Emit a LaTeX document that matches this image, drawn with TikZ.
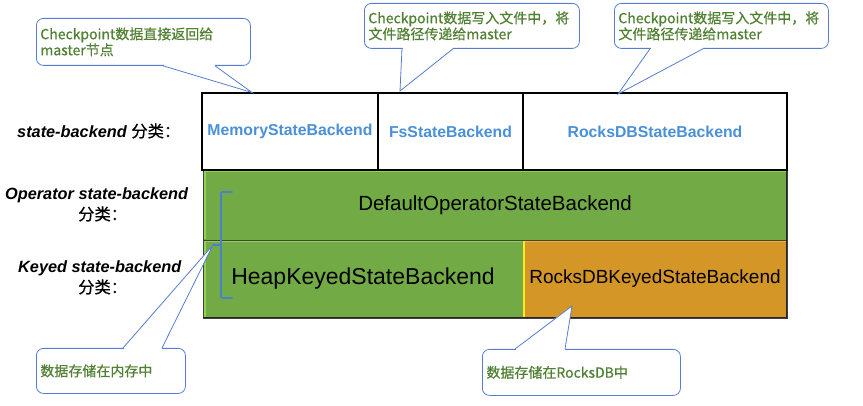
\documentclass[tikz,border=0pt]{standalone}
\usepackage{fontspec}
\setmainfont{Liberation Sans}
\newfontfamily\cjk{Noto Sans CJK SC}
\newfontfamily\cjkm[FakeBold=0.5]{Noto Sans CJK SC}
\usetikzlibrary{calc}
\definecolor{cgreen}{RGB}{114,170,70}
\definecolor{lgreen}{RGB}{145,210,85}
\definecolor{corange}{RGB}{212,150,38}
\definecolor{lorange}{RGB}{250,180,40}
\definecolor{cyellow}{RGB}{255,235,30}
\definecolor{ctext}{RGB}{80,128,50}
\definecolor{cblue}{RGB}{74,144,217}
\definecolor{cline}{RGB}{85,125,210}
\definecolor{cbrace}{RGB}{70,130,205}
\tikzset{
  cell/.style={draw=black, line width=2.5pt, fill=white, inner sep=0pt, outer sep=0pt,
    anchor=north west, text=cblue, font=\bfseries\fontsize{15.8}{18}\selectfont},
  gcell/.style={draw=black!75, line width=0.8pt, fill=cgreen, inner sep=0pt, outer sep=0pt,
    anchor=north west, text=black},
  ocell/.style={gcell, fill=corange},
  callout/.style={draw=cline, line width=0.8pt, fill=white, rounded corners=7pt,
    inner xsep=4pt, inner ysep=0pt, anchor=north west, align=left, text=ctext,
    font=\cjkm\fontsize{14}{16}\selectfont},
  lbl/.style={inner sep=0pt, anchor=west, font=\bfseries\itshape\fontsize{16.3}{18}\selectfont},
  tailfill/.style={fill=white},
  tailline/.style={draw=cline, line width=0.8pt, line join=miter},
}
\begin{document}
\begin{tikzpicture}[x=1pt,y=-1pt]
\useasboundingbox (0,0) rectangle (863,406);

% ---- green / orange rows
\node[gcell, minimum width=584pt, minimum height=70pt,
  font=\fontsize{20.5}{24}\selectfont] (op) at (203,170) {DefaultOperatorStateBackend};
\node[gcell, minimum width=320pt, minimum height=78pt,
  font=\fontsize{23}{26}\selectfont] (heap) at (203,240) {HeapKeyedStateBackend};
\node[ocell, minimum width=264pt, minimum height=78pt,
  font=\fontsize{19}{22}\selectfont] (rkd) at (523,240) {RocksDBKeyedStateBackend};

% bevel highlights and shadows
\draw[lgreen, line width=1.6pt] ($(op.south west)+(2,-1)$) -- ($(op.north west)+(2,1.5)$) -- ($(op.north east)+(-1.5,1.5)$);
\draw[lgreen, line width=1.6pt] ($(heap.south west)+(2,-1)$) -- ($(heap.north west)+(2,1.6)$) -- ($(heap.north east)+(-1,1.6)$);
\draw[lorange, line width=1.6pt] ($(rkd.north west)+(2,1.6)$) -- ($(rkd.north east)+(-1.5,1.6)$);
\draw[cyellow, line width=1.6pt] ($(rkd.south west)+(1.2,-1)$) -- ($(rkd.north west)+(1.2,1)$);
\draw[black!85, line width=1.6pt] ($(op.north east)+(-0.5,0)$) -- ($(rkd.south east)+(-0.5,0)$);
\draw[black!85, line width=1.4pt] ($(heap.south west)+(0,-0.5)$) -- ($(rkd.south east)+(0,-0.5)$);

% ---- top row
\node[cell, minimum width=176pt, minimum height=77pt] (mem) at (202,93) {MemoryStateBackend};
\node[cell, minimum width=145pt, minimum height=77pt] (fs) at (378,93) {FsStateBackend};
\node[cell, minimum width=264pt, minimum height=77pt] (rocks) at (523,93) {RocksDBStateBackend};

% ---- brace
\draw[cbrace, line width=1.7pt, line cap=round, rounded corners=1pt]
  (232,192) -- (221,192) -- (221,298) -- (232,298);
\draw[cbrace, line width=1.7pt] (213,245) -- (221,245);
\coordinate (brace) at (213,245);

% ---- left labels
\node[lbl] (l1) at (17,131) {state-backend {\cjkm\mdseries\upshape 分类：}};
\node[lbl] (l2a) at (5,195) {Operator state-backend};
\node[lbl] (l2b) at (78,214) {\cjkm\mdseries\upshape 分类：};
\node[lbl] (l3a) at (18,268) {Keyed state-backend};
\node[lbl] (l3b) at (78,287) {\cjkm\mdseries\upshape 分类：};

% ---- callouts
\node[callout, minimum height=47pt, text width=206pt] (c1) at (36,18)
  {Checkpoint数据直接返回给\\master节点};
\node[callout, minimum height=45pt, text width=207pt] (c2) at (364,3)
  {Checkpoint数据写入文件中，将\\文件路径传递给master};
\node[callout, minimum height=45pt, text width=206pt] (c3) at (614,3)
  {Checkpoint数据写入文件中，将\\文件路径传递给master};
\node[callout, minimum height=45pt, text width=141pt] (c4) at (36,348)
  {数据存储在内存中};
\node[callout, minimum height=46pt, text width=190pt] (c5) at (482,349)
  {数据存储在RocksDB中};

% tips
\coordinate (t1) at ($(mem.north west)+(50,-0.5)$);
\coordinate (t2) at ($(fs.north west)+(22,-2)$);
\coordinate (t3) at ($(rocks.north west)+(95,1)$);
\coordinate (t5) at (572,306);

% tails
\fill[tailfill] ($(c1.south west)+(127,1.5)$) -- (t1) -- ($(c1.south west)+(179,1.5)$) -- cycle;
\fill[tailfill] ($(c1.south west)+(127.5,-1.5)$) rectangle ($(c1.south west)+(178.5,1.5)$);
\draw[tailline] ($(c1.south west)+(127,0)$) -- (t1) -- ($(c1.south west)+(179,0)$);

\fill[tailfill] ($(c2.south west)+(38,1.5)$) -- (t2) -- ($(c2.south west)+(89,1.5)$) -- cycle;
\fill[tailfill] ($(c2.south west)+(38.5,-1.5)$) rectangle ($(c2.south west)+(88.5,1.5)$);
\draw[tailline] ($(c2.south west)+(38,0)$) -- (t2) -- ($(c2.south west)+(89,0)$);

\fill[tailfill] ($(c3.south west)+(36,1.5)$) -- (t3) -- ($(c3.south west)+(89,1.5)$) -- cycle;
\fill[tailfill] ($(c3.south west)+(36.5,-1.5)$) rectangle ($(c3.south west)+(88.5,1.5)$);
\draw[tailline] ($(c3.south west)+(36,0)$) -- (t3) -- ($(c3.south west)+(89,0)$);

\fill[tailfill] ($(c4.north west)+(87,-1.5)$) -- (brace) -- ($(c4.north west)+(126,-1.5)$) -- cycle;
\fill[tailfill] ($(c4.north west)+(87.5,-1.5)$) rectangle ($(c4.north west)+(125.5,1.5)$);
\draw[tailline] ($(c4.north west)+(87,0)$) -- (brace) -- ($(c4.north west)+(126,0)$);

\fill[tailfill] ($(c5.north west)+(33,-1.5)$) -- (t5) -- ($(c5.north west)+(83,-1.5)$) -- cycle;
\fill[tailfill] ($(c5.north west)+(33.5,-1.5)$) rectangle ($(c5.north west)+(82.5,1.5)$);
\draw[tailline] ($(c5.north west)+(33,0)$) -- (t5) -- ($(c5.north west)+(83,0)$);
\end{tikzpicture}
\end{document}
